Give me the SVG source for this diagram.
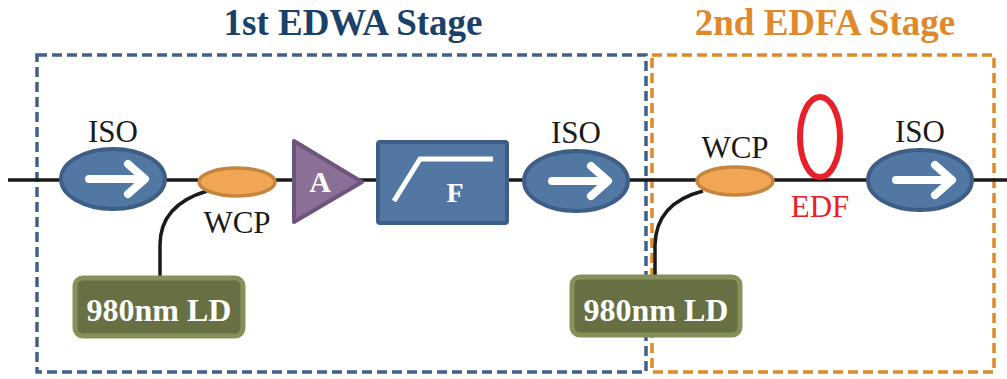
<svg xmlns="http://www.w3.org/2000/svg" width="1007" height="379" viewBox="0 0 1007 379">
<style>
.t{font-family:"Liberation Serif","Times New Roman",serif;text-anchor:middle}
.lbl{font-size:31px;fill:#1a1a1a}
.wlbl{fill:#fff;font-weight:bold}
.iso{fill:#5177a3;stroke:#3e5e87;stroke-width:4}
.arr{fill:none;stroke:#fff;stroke-width:8;stroke-linecap:round;stroke-linejoin:round}
.wcp{fill:#f1a656;stroke:#c6843c;stroke-width:3.5}
.fib{fill:none;stroke:#1a1a1a;stroke-width:3.5}
.ld{fill:#667042;stroke:#849159;stroke-width:5}
.ldt{font-size:32px}
.stg{fill:none;stroke-width:3.5;stroke-dasharray:10 5}
</style>
<g id="titles">
<text class="t" x="353" y="35" font-size="37" font-weight="bold" fill="#1a416a">1st EDWA Stage</text>
<text class="t" x="825" y="35" font-size="37" font-weight="bold" fill="#e0882a">2nd EDFA Stage</text>
</g>
<g id="stage1"><rect class="stg" x="37" y="55" width="609" height="317" stroke="#41618a"/></g>
<g id="stage2"><rect class="stg" x="652" y="55" width="342" height="317" stroke="#e0892a"/></g>
<g id="connectors">
<line class="fib" x1="8" y1="180" x2="1007" y2="180"/>
<path class="fib" d="M207 191 Q160 205 160 245 L160 277"/>
<path class="fib" d="M703 191 Q656 203 655 245 L655 275"/>
</g>
<g id="iso1"><ellipse class="iso" cx="113" cy="179" rx="52" ry="30"/><path class="arr" d="M89 179 H144 M128 164 L145 179 L128 194"/><text class="t lbl" x="113" y="142">ISO</text></g>
<g id="wcp1"><ellipse class="wcp" cx="237" cy="182" rx="38" ry="14"/><text class="t lbl" x="237" y="233">WCP</text></g>
<g id="amp"><polygon points="294,141 294,222 362,182" fill="#8a6f96" stroke="#6e5580" stroke-width="4" stroke-linejoin="round"/><text class="t wlbl" x="320" y="192" style="font-size:30px">A</text></g>
<g id="filter"><rect x="378" y="142" width="129" height="81" rx="2" fill="#5277a3" stroke="#3e5e87" stroke-width="4"/><path d="M394 201 L420 159 L493 159" fill="none" stroke="#fff" stroke-width="5"/><text class="t wlbl" x="455" y="202" style="font-size:28px">F</text></g>
<g id="iso2"><ellipse class="iso" cx="576" cy="181" rx="52" ry="30"/><path class="arr" d="M552 181 H607 M591 166 L608 181 L591 196"/><text class="t lbl" x="576" y="143">ISO</text></g>
<g id="wcp2"><ellipse class="wcp" cx="735" cy="181" rx="38" ry="14"/><text class="t lbl" x="735" y="158">WCP</text></g>
<g id="edf"><ellipse cx="820" cy="137" rx="20" ry="40" fill="none" stroke="#e8202a" stroke-width="6"/><text class="t" x="820" y="217" font-size="31" fill="#e8202a">EDF</text></g>
<g id="iso3"><ellipse class="iso" cx="920" cy="180" rx="52" ry="30"/><path class="arr" d="M896 180 H951 M935 165 L952 180 L935 195"/><text class="t lbl" x="920" y="142">ISO</text></g>
<g id="ld1"><rect class="ld" x="75" y="278" width="168" height="58" rx="8"/><text class="t wlbl ldt" x="159" y="321">980nm LD</text></g>
<g id="ld2"><rect class="ld" x="572" y="277" width="168" height="58" rx="8"/><text class="t wlbl ldt" x="656" y="321">980nm LD</text></g>
</svg>
